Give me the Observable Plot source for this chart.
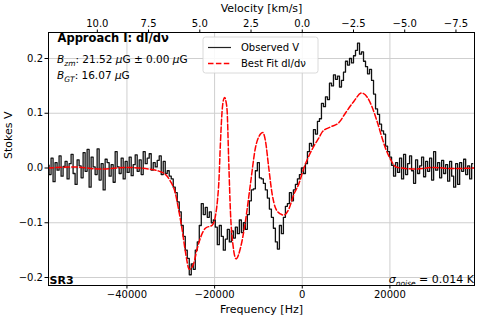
<!DOCTYPE html>
<html><head><meta charset="utf-8">
<script src="https://cdn.jsdelivr.net/npm/d3@7"></script>
<script src="https://cdn.jsdelivr.net/npm/@observablehq/plot@0.6"></script>
<style>body{margin:0;background:#fff} svg{font-family:"DejaVu Sans",sans-serif}</style>
</head><body><div id="chart"></div>
<script>
// ---- data ----
const obsStartHz = -58000;
const obsStepHz = 457;
const obsV = [
  0.005,-0.012,0.018,-0.025,0.010,-0.004,0.022,-0.015,0.003,0.012,
  -0.020,0.008,0.025,-0.010,-0.030,0.015,0.004,-0.018,0.028,-0.006,
  0.034,-0.035,0.020,0.002,-0.012,0.035,-0.022,0.008,-0.040,0.016,
  0.010,-0.015,0.006,-0.026,0.030,0.002,-0.010,0.018,-0.020,0.012,
  -0.008,0.020,-0.014,0.006,0.024,-0.006,0.015,-0.012,0.030,0.008,
  0.018,0.026,-0.004,0.010,0.002,0.014,0.022,-0.012,0.012,-0.010,
  -0.005,-0.015,-0.020,-0.035,-0.045,-0.062,-0.080,-0.105,-0.125,-0.150,
  -0.165,-0.195,-0.175,-0.185,-0.150,-0.135,-0.105,-0.065,-0.085,-0.072,
  -0.090,-0.080,-0.100,-0.095,-0.108,-0.140,-0.105,-0.125,-0.150,-0.130,
  -0.112,-0.135,-0.115,-0.128,-0.108,-0.120,-0.095,-0.118,-0.100,-0.112,
  -0.085,-0.060,-0.040,-0.038,-0.005,0.010,-0.018,-0.020,-0.028,-0.040,
  -0.055,-0.075,-0.090,-0.110,-0.135,-0.148,-0.105,-0.120,-0.090,-0.070,
  -0.065,-0.045,-0.060,-0.040,-0.030,-0.020,-0.012,0.000,-0.010,0.008,
  0.030,0.045,0.040,0.070,0.062,0.085,0.090,0.118,0.112,0.130,
  0.125,0.155,0.150,0.170,0.162,0.168,0.148,0.160,0.175,0.195,
  0.188,0.200,0.192,0.205,0.215,0.228,0.208,0.212,0.195,0.185,
  0.172,0.180,0.160,0.135,0.108,0.098,0.080,0.068,0.062,0.040,
  0.030,0.020,0.005,-0.015,0.010,-0.008,0.018,-0.020,0.025,-0.012,
  0.008,0.022,-0.005,-0.028,0.015,-0.010,0.004,0.020,-0.016,0.012,
  -0.006,0.018,-0.022,0.030,-0.004,0.010,-0.018,0.014,-0.010,0.006,
  -0.024,0.012,-0.015,-0.035,0.008,-0.030,0.010,-0.006,0.016,-0.012,0.004,-0.020,0.008
];
const fitHz = [-58000,-52000,-46000,-40000,-35000,-31700,-30100,-28960,-28280,-27360,-26680,-25760,-24850,-23930,-23250,-22100,-20500,-19820,-19360,-19020,-18680,-18290,-17990,-17690,-17420,-17140,-16780,-16390,-15770,-15090,-14100,-12960,-11820,-10680,-9530,-9010,-8390,-7640,-6860,-6100,-4960,-4210,-3060,-1920,-780,370,1510,2650,3800,4570,6470,8370,9900,11800,13490,14860,16000,17150,18290,19040,20190,20940,21790,26000,30000,34000,39500];
const fitV = [0.000,0.002,-0.002,0.001,-0.002,-0.009,-0.024,-0.046,-0.073,-0.115,-0.152,-0.185,-0.176,-0.146,-0.128,-0.110,-0.104,-0.088,-0.060,-0.024,0.044,0.104,0.124,0.129,0.122,0.104,0.013,-0.079,-0.143,-0.166,-0.146,-0.097,-0.029,0.037,0.062,0.065,0.049,0.000,-0.048,-0.073,-0.084,-0.086,-0.075,-0.048,-0.029,0.000,0.022,0.040,0.055,0.066,0.075,0.083,0.101,0.122,0.137,0.129,0.110,0.083,0.053,0.035,0.015,0.005,0.001,-0.002,0.001,-0.001,0.000];
const freqTicks = [-40000,-20000,0,20000];
const velTicks = [10,7.5,5,2.5,0,-2.5,-5,-7.5];
const yTicks = [-0.2,-0.1,0,0.1,0.2];
const HZ_PER_KMS = 4676;
const legendLabels = ["Observed V","Best Fit dI/dν"];
const titleText = "Approach I: dI/dν";
const regionLabel = "SR3";

// ---- build ----
const obs = obsV.map((v,i)=>({f: obsStartHz + i*obsStepHz, v}));
const fit = fitHz.map((f,i)=>({f, v: fitV[i]}));
const font = "DejaVu Sans";

const chart = Plot.plot({
  width: 479, height: 320,
  marginLeft: 48, marginRight: 5, marginTop: 32, marginBottom: 35,
  style: {fontFamily: font, fontSize: "10px", color: "#000", background: "#fff"},
  x: {domain: [-57900, 39300]},
  y: {domain: [-0.2146, 0.2475]},
  marks: [
    Plot.gridX(freqTicks, {stroke: "#cfcfcf", strokeOpacity: 1, strokeWidth: 1}),
    Plot.gridY(yTicks, {stroke: "#cfcfcf", strokeOpacity: 1, strokeWidth: 1}),
    Plot.line(obs, {x: "f", y: "v", curve: "step", stroke: "#111", strokeWidth: 1.3, clip: true}),
    Plot.line(fit, {x: "f", y: "v", curve: "monotone-x", stroke: "#ff0000", strokeWidth: 1.5, strokeDasharray: "5.5,2.4", clip: true}),
    Plot.frame({stroke: "#000", strokeWidth: 1}),
    Plot.axisX(freqTicks, {anchor: "bottom", tickSize: 3.5, tickPadding: 2, fontSize: 10,
      tickFormat: d3.format("d"), label: null}),
    Plot.axisX(velTicks.map(v => -v * HZ_PER_KMS), {anchor: "top", tickSize: 3.5, tickPadding: 2, fontSize: 10,
      tickFormat: d => d3.format(".1f")(-d / HZ_PER_KMS), label: null}),
    Plot.axisY(yTicks, {anchor: "left", tickSize: 3.5, tickPadding: 2, fontSize: 10,
      tickFormat: d3.format(".1f"), label: null}),
    Plot.text(["Frequency [Hz]"], {text: d => d, frameAnchor: "bottom", dy: 27, lineAnchor: "bottom", fontSize: 11}),
    Plot.text(["Velocity [km/s]"], {text: d => d, frameAnchor: "top", dy: -28, lineAnchor: "top", fontSize: 11}),
    Plot.text(["Stokes V"], {text: d => d, frameAnchor: "left", dx: -44, rotate: -90, lineAnchor: "top", fontSize: 11}),
    Plot.text([titleText], {text: d => d, frameAnchor: "top-left", dx: 9, dy: 1, lineAnchor: "top", textAnchor: "start", fontSize: 11.5, fontWeight: "bold"}),
    Plot.text([regionLabel], {text: d => d, frameAnchor: "bottom-left", dx: 1, dy: -2, lineAnchor: "bottom", textAnchor: "start", fontSize: 11, fontWeight: "bold"})
  ]
});
document.getElementById("chart").appendChild(chart);

const svg = d3.select(chart);
// B_zm / B_GT annotations
function addB(y, sub, rest) {
  const t = svg.append("text").attr("x", 57).attr("y", y).attr("text-anchor", "start").attr("font-size", 10.5).attr("font-family", font).attr("fill", "#000");
  t.append("tspan").attr("font-style", "italic").text("B");
  t.append("tspan").attr("font-style", "italic").attr("font-size", 7.5).attr("dy", 2.5).text(sub);
  let first = true;
  rest.forEach(([s, it]) => {
    const ts = t.append("tspan").text(s);
    if (it) ts.attr("font-style", "italic");
    if (first) { ts.attr("dy", -2.5); first = false; }
  });
}
addB(63, "zm", [[": 21.52 ", false], ["μ", true], ["G ± 0.00 ", false], ["μ", true], ["G", false]]);
addB(79, "GT", [[": 16.07 ", false], ["μ", true], ["G", false]]);

// sigma noise
{
  const t = svg.append("text").attr("x", 474).attr("y", 283).attr("text-anchor", "end").attr("font-size", 11).attr("font-family", font).attr("fill", "#000");
  t.append("tspan").attr("font-style", "italic").text("σ");
  t.append("tspan").attr("font-style", "italic").attr("font-size", 7.5).attr("dy", 2.5).text("noise");
  t.append("tspan").attr("dy", -2.5).text(" = 0.014 K");
}

// legend
{
  const g = svg.append("g");
  g.append("rect").attr("x", 203).attr("y", 37).attr("width", 115).attr("height", 36).attr("rx", 2.5)
    .attr("fill", "#fff").attr("fill-opacity", 0.85).attr("stroke", "#d0d0d0").attr("stroke-width", 0.8);
  g.append("line").attr("x1", 208).attr("x2", 231).attr("y1", 47.5).attr("y2", 47.5).attr("stroke", "#222").attr("stroke-width", 1.2);
  g.append("line").attr("x1", 208).attr("x2", 231).attr("y1", 63.5).attr("y2", 63.5).attr("stroke", "#ff0000").attr("stroke-width", 1.5).attr("stroke-dasharray", "5.5,2.4");
  legendLabels.forEach((s, i) => {
    g.append("text").attr("x", 241).attr("y", 47.5 + 16 * i).attr("dy", "0.35em").attr("text-anchor", "start").attr("font-size", 10).attr("font-family", font).attr("fill", "#000").text(s);
  });
}
</script>
</body></html>
